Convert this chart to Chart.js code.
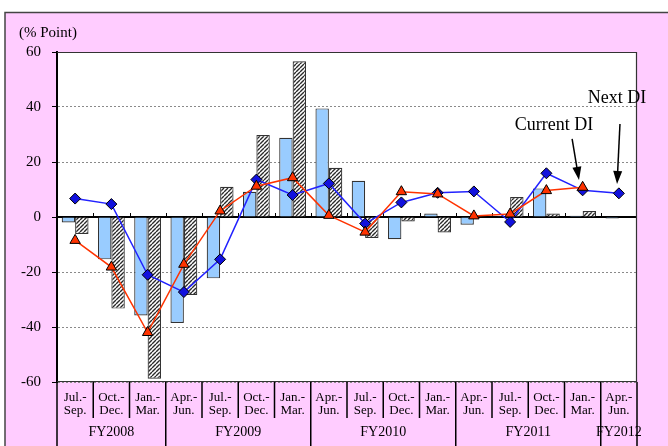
<!DOCTYPE html>
<html lang="en">
<head>
<meta charset="UTF-8">
<title>DI chart</title>
<script src="https://cdn.jsdelivr.net/npm/chart.js"></script>
<style>
    body { margin: 0; padding: 0; background: #fff; }
    canvas { display: block; }
</style>
</head>
<body>
<canvas id="diChart" width="668" height="446"></canvas>
<script>
    // quarter labels (two lines each) and fiscal year groups
    const quarterTop = ['Jul.-', 'Oct.-', 'Jan.-', 'Apr.-', 'Jul.-', 'Oct.-', 'Jan.-', 'Apr.-',
                        'Jul.-', 'Oct.-', 'Jan.-', 'Apr.-', 'Jul.-', 'Oct.-', 'Jan.-', 'Apr.-'];
    const quarterBottom = ['Sep.', 'Dec.', 'Mar.', 'Jun.', 'Sep.', 'Dec.', 'Mar.', 'Jun.',
                           'Sep.', 'Dec.', 'Mar.', 'Jun.', 'Sep.', 'Dec.', 'Mar.', 'Jun.'];
    const fiscalYears = ['FY2008', 'FY2009', 'FY2010', 'FY2011', 'FY2012'];
    const fiscalStart = [0, 3, 7, 11, 15];
    const fiscalEnd = [2, 6, 10, 14, 15];

    // series values
    const barsSolid = [-2, -15.4, -35.8, -38.5, -22.3, 9.2, 28.8, 39.5, 13.2, -8.1, 1.3, -2.8, 0.3, 10.4, 0.5, -0.5];
    const barsHatched = [-6.2, -33.3, -58.8, -28.4, 11, 29.8, 56.6, 17.9, -7.6, -1.6, -5.6, null, 7.3, 1.3, 2.2, null];
    const nextDI = [6.7, 4.7, -21, -27.3, -15.4, 13.6, 8, 12.2, -2.4, 5.3, 8.8, 9.3, -1.8, 15.9, 9.7, 8.6];
    const currentDI = [-8.5, -18.2, -42, -17.2, 2.2, 11.2, 14.3, 0.6, -5.5, 9.2, 8.4, 0.4, 1.1, 9.6, 10.8, null];

    const yTicks = [-60, -40, -20, 0, 20, 40, 60];

    // arrow notes, in data coordinates (category index, value)
    const notes = [
        { text: 'Current DI', tx: 13.21, ty: 33.5, x1: 13.71, y1: 28.4, x2: 13.9, y2: 13.5 },
        { text: 'Next DI', tx: 14.95, ty: 43.3, x1: 15.03, y1: 33.8, x2: 14.95, y2: 12 }
    ];

    const serif = '"Liberation Serif", "Times New Roman", serif';

    // hatch fill for the second bar series
    function makeHatch() {
        const c = document.createElement('canvas');
        c.width = 4; c.height = 4;
        const g = c.getContext('2d');
        g.fillStyle = '#fff';
        g.fillRect(0, 0, 4, 4);
        g.strokeStyle = '#2a2a2a';
        g.lineWidth = 1.4;
        g.beginPath();
        for (let x = -4; x <= 4; x += 4) {
            g.moveTo(x, 4);
            g.lineTo(x + 4, 0);
        }
        g.stroke();
        return g.createPattern(c, 'repeat');
    }

    const framePlugin = {
        id: 'frame',
        beforeDraw(chart) {
            const ctx = chart.ctx;
            const a = chart.chartArea;
            ctx.save();
            ctx.fillStyle = '#fff';
            ctx.fillRect(0, 0, chart.width, chart.height);
            ctx.fillStyle = '#ffccff';
            ctx.fillRect(5, 12, chart.width - 5, chart.height - 12);
            ctx.strokeStyle = '#444';
            ctx.lineWidth = 1.5;
            ctx.beginPath();
            ctx.moveTo(5, chart.height);
            ctx.lineTo(5, 12.5);
            ctx.lineTo(chart.width, 12.5);
            ctx.stroke();
            ctx.fillStyle = '#fff';
            ctx.fillRect(a.left, a.top, a.right - a.left, a.bottom - a.top);
            ctx.fillStyle = '#000';
            ctx.font = '15px ' + serif;
            ctx.textBaseline = 'middle';
            ctx.textAlign = 'left';
            ctx.fillText('(% Point)', 19, 33);
            ctx.restore();
        },
        beforeDatasetsDraw(chart) {
            const ctx = chart.ctx;
            const a = chart.chartArea;
            const x = chart.scales.x, y = chart.scales.y;
            const y0 = y.getPixelForValue(0);
            ctx.save();
            ctx.strokeStyle = '#000';
            ctx.lineWidth = 2;
            ctx.beginPath();
            ctx.moveTo(a.left, y0);
            ctx.lineTo(a.right, y0);
            ctx.stroke();
            ctx.lineWidth = 1;
            ctx.beginPath();
            for (let i = 1; i < quarterTop.length; i++) {
                const px = Math.round(x.getPixelForValue(i - 0.5)) + 0.5;
                ctx.moveTo(px, y0);
                ctx.lineTo(px, y0 - 4);
            }
            ctx.stroke();
            ctx.restore();
        },
        afterDraw(chart) {
            const ctx = chart.ctx;
            const a = chart.chartArea;
            const x = chart.scales.x, y = chart.scales.y;
            ctx.save();
            // plot frame (top, right, bottom)
            ctx.strokeStyle = '#333';
            ctx.lineWidth = 1.2;
            ctx.beginPath();
            ctx.moveTo(a.left, a.top + 0.5);
            ctx.lineTo(a.right - 0.5, a.top + 0.5);
            ctx.lineTo(a.right - 0.5, a.bottom - 0.5);
            ctx.lineTo(a.left, a.bottom - 0.5);
            ctx.stroke();

            // category separators below the plot
            const fyBounds = fiscalStart.concat([quarterTop.length]);
            ctx.strokeStyle = '#000';
            ctx.lineWidth = 1.5;
            ctx.beginPath();
            for (let i = 0; i <= quarterTop.length; i++) {
                const px = x.getPixelForValue(i - 0.5);
                const long = fyBounds.includes(i);
                ctx.moveTo(px, a.bottom);
                ctx.lineTo(px, long ? chart.height : a.bottom + 36);
            }
            ctx.stroke();

            // quarter and fiscal year labels
            ctx.fillStyle = '#000';
            ctx.textAlign = 'center';
            ctx.textBaseline = 'middle';
            ctx.font = '13px ' + serif;
            quarterTop.forEach((t, i) => {
                const px = x.getPixelForValue(i);
                ctx.fillText(t, px, a.bottom + 16);
                ctx.fillText(quarterBottom[i], px, a.bottom + 29);
            });
            ctx.font = '14px ' + serif;
            fiscalYears.forEach((t, k) => {
                const px = (x.getPixelForValue(fiscalStart[k]) + x.getPixelForValue(fiscalEnd[k])) / 2;
                ctx.fillText(t, px, a.bottom + 50);
            });

            // arrow notes
            ctx.font = '18px ' + serif;
            notes.forEach(n => {
                ctx.fillText(n.text, x.getPixelForValue(n.tx), y.getPixelForValue(n.ty));
                const sx = x.getPixelForValue(n.x1), sy = y.getPixelForValue(n.y1);
                const ex = x.getPixelForValue(n.x2), ey = y.getPixelForValue(n.y2);
                const ang = Math.atan2(ey - sy, ex - sx);
                ctx.lineWidth = 1.5;
                ctx.beginPath();
                ctx.moveTo(sx, sy);
                ctx.lineTo(ex - 10 * Math.cos(ang), ey - 10 * Math.sin(ang));
                ctx.stroke();
                ctx.beginPath();
                ctx.moveTo(ex, ey);
                ctx.lineTo(ex - 13 * Math.cos(ang) + 4.5 * Math.sin(ang), ey - 13 * Math.sin(ang) - 4.5 * Math.cos(ang));
                ctx.lineTo(ex - 13 * Math.cos(ang) - 4.5 * Math.sin(ang), ey - 13 * Math.sin(ang) + 4.5 * Math.cos(ang));
                ctx.closePath();
                ctx.fill();
            });
            ctx.restore();
        }
    };

    const ctx = document.getElementById('diChart').getContext('2d');
    new Chart(ctx, {
        type: 'bar',
        data: {
            labels: quarterTop.map((t, i) => t + quarterBottom[i]),
            datasets: [
                {
                    type: 'line',
                    label: 'Current DI',
                    data: currentDI,
                    borderColor: '#ff3300',
                    borderWidth: 1.5,
                    pointStyle: 'triangle',
                    pointRadius: 6,
                    pointBackgroundColor: '#ff3300',
                    pointBorderColor: '#000',
                    pointBorderWidth: 1,
                    tension: 0,
                    order: 1
                },
                {
                    type: 'line',
                    label: 'Next DI',
                    data: nextDI,
                    borderColor: '#2222ff',
                    borderWidth: 1.5,
                    pointStyle: 'rectRot',
                    pointRadius: 5.5,
                    pointBackgroundColor: '#1111dd',
                    pointBorderColor: '#000',
                    pointBorderWidth: 1,
                    tension: 0,
                    order: 2
                },
                {
                    label: 'Series A',
                    data: barsSolid,
                    backgroundColor: '#99ccff',
                    borderColor: '#333',
                    borderWidth: 1.2,
                    categoryPercentage: 0.74,
                    barPercentage: 1,
                    order: 3
                },
                {
                    label: 'Series B',
                    data: barsHatched,
                    backgroundColor: makeHatch(),
                    borderColor: '#333',
                    borderWidth: 1.2,
                    categoryPercentage: 0.74,
                    barPercentage: 1,
                    order: 3
                }
            ]
        },
        options: {
            responsive: false,
            animation: false,
            devicePixelRatio: 1,
            layout: { padding: { top: 52, right: 31, bottom: 64, left: 0 } },
            plugins: {
                legend: { display: false },
                tooltip: { enabled: false }
            },
            scales: {
                x: { display: false },
                y: {
                    min: -60,
                    max: 60,
                    afterFit: s => { s.width = 57; },
                    afterBuildTicks: s => { s.ticks = yTicks.map(v => ({ value: v })); },
                    ticks: {
                        color: '#000',
                        font: { family: serif, size: 15 },
                        padding: 11
                    },
                    grid: {
                        color: c => (c.tick && c.tick.value === 0) ? 'rgba(0,0,0,0)' : '#8a8a8a',
                        tickColor: '#000',
                        tickLength: 5,
                        lineWidth: 1
                    },
                    border: { display: true, color: '#000', width: 2, dash: [2, 2] }
                }
            }
        },
        plugins: [framePlugin]
    });
</script>
</body>
</html>
